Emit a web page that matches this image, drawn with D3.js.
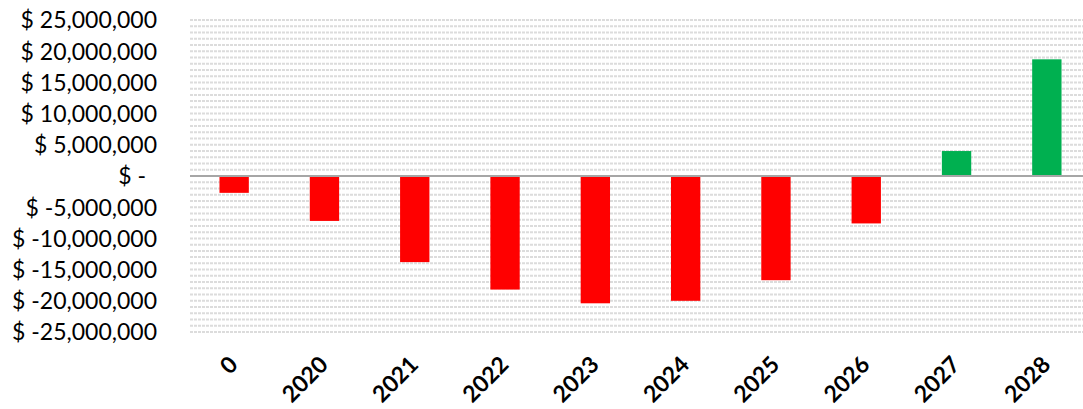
<!DOCTYPE html>
<html>
<head>
<meta charset="utf-8">
<script src="https://cdn.jsdelivr.net/npm/d3@7"></script>
<style>
  html, body { margin: 0; padding: 0; background: #fff; }
  svg { display: block; }
</style>
</head>
<body>
<svg id="chart" width="1083" height="409"></svg>
<script>
// Yearly net cash position
const categories = ["0", "2020", "2021", "2022", "2023", "2024", "2025", "2026", "2027", "2028"];
const values = [-2700000, -7200000, -13800000, -18200000, -20400000, -20000000, -16700000, -7600000, 4000000, 18700000];
const yTicks = [25000000, 20000000, 15000000, 10000000, 5000000, 0, -5000000, -10000000, -15000000, -20000000, -25000000];

const svg = d3.select("#chart");
const plotLeft = 189, plotRight = 1092, plotTop = 20, plotBottom = 332;

const x = d3.scaleBand().domain(categories).range([plotLeft, plotRight]).paddingInner(0.675).paddingOuter(0.3375);
const y = d3.scaleLinear().domain([-25000000, 25000000]).range([plotBottom, plotTop]);

// fine horizontal gridlines every million
const minor = d3.range(-25000000, 25000001, 1000000);
svg.append("g")
  .selectAll("line")
  .data(minor)
  .join("line")
  .attr("x1", plotLeft + 1).attr("x2", plotRight)
  .attr("y1", d => y(d)).attr("y2", d => y(d))
  .attr("stroke", "#dcdcdc")
  .attr("stroke-width", 2)
  .attr("stroke-dasharray", "3,1");

// y axis labels in accounting style, plain hyphen for negatives
const locale = d3.formatLocale({ decimal: ".", thousands: ",", grouping: [3], currency: ["$", ""], minus: "-" });
const fmt = locale.format(",");
const yAxis = d3.axisLeft(y)
  .tickValues(yTicks)
  .tickSize(0)
  .tickPadding(0)
  .tickFormat(d => d === 0 ? "$ -" : "$ " + fmt(d));
const gy = svg.append("g").attr("transform", "translate(157,0)").call(yAxis);
gy.select(".domain").remove();
gy.selectAll("text")
  .attr("font-family", "Lato, sans-serif")
  .attr("font-size", 23)
  .attr("fill", "#000")
  .attr("dx", d => d === 0 ? -11 : 0)
  .attr("dy", "0.34em");

// bars
svg.append("g")
  .selectAll("rect")
  .data(values)
  .join("rect")
  .attr("x", (d, i) => x(categories[i]))
  .attr("width", x.bandwidth())
  .attr("y", d => y(Math.max(0, d)))
  .attr("height", d => Math.abs(y(d) - y(0)))
  .attr("fill", d => d < 0 ? "#ff0000" : "#00b050");

// zero baseline
svg.append("line")
  .attr("x1", plotLeft + 1).attr("x2", plotRight)
  .attr("y1", y(0)).attr("y2", y(0))
  .attr("stroke", "#a6a6a6")
  .attr("stroke-width", 2);

// category labels, rotated
const xAxis = d3.axisBottom(x).tickSize(0).tickPadding(0);
const gx = svg.append("g").call(xAxis);
gx.select(".domain").remove();
gx.selectAll(".tick text")
  .attr("font-family", "Lato, sans-serif")
  .attr("font-size", 23)
  .attr("font-weight", "bold")
  .attr("fill", "#000")
  .attr("text-anchor", "end")
  .attr("y", 0).attr("dy", 0)
  .attr("transform", "translate(5,366) rotate(-45)");
</script>
</body>
</html>
